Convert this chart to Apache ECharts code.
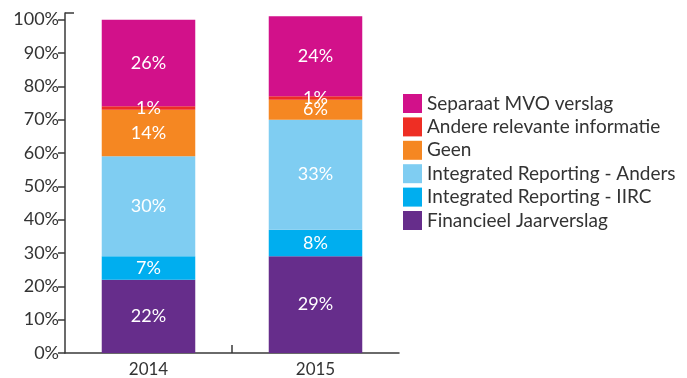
<!DOCTYPE html>
<html>
<head>
<meta charset="utf-8">
<style>
  html, body { margin: 0; padding: 0; background: #fff; }
  #chart { width: 687px; height: 378px; }
</style>
<script src="https://cdn.jsdelivr.net/npm/echarts@6/dist/echarts.min.js"></script>
</head>
<body>
<div id="chart"></div>
<script>
// Jaren op de x-as
const years = ['2014', '2015'];

// Percentages per rapportagevorm (van onder naar boven gestapeld)
const financieelJaarverslag = [22, 29];
const integratedIIRC = [7, 8];
const integratedAnders = [30, 33];
const geen = [14, 6];
const andereRelevante = [1, 1];
const separaatMVO = [26, 24];

// Labels van de y-as
const yTicks = [0, 10, 20, 30, 40, 50, 60, 70, 80, 90, 100];

const FONT = 'Lato';
const TEXT = '#333333';
const AXIS = '#3a3a3a';

const layers = [
  { name: 'Financieel Jaarverslag', data: financieelJaarverslag, color: '#662d8b' },
  { name: 'Integrated Reporting - IIRC', data: integratedIIRC, color: '#00aeef' },
  { name: 'Integrated Reporting - Anders', data: integratedAnders, color: '#7fcdf2' },
  { name: 'Geen', data: geen, color: '#f58722' },
  { name: 'Andere relevante informatie', data: andereRelevante, color: '#ee2e24' },
  { name: 'Separaat MVO verslag', data: separaatMVO, color: '#d2118a' }
];

const chart = echarts.init(document.getElementById('chart'), null, { renderer: 'canvas' });

chart.setOption({
  animation: false,
  textStyle: { fontFamily: FONT },
  grid: { left: 65, right: 288, top: 13, bottom: 23, containLabel: false },
  legend: {
    orient: 'vertical',
    left: 398,
    top: 89,
    padding: 5,
    itemWidth: 19,
    itemHeight: 19,
    itemGap: 4.4,
    icon: 'rect',
    data: layers.map(l => l.name).reverse(),
    textStyle: { fontFamily: FONT, fontSize: 19, lineHeight: 19, color: TEXT }
  },
  xAxis: [
    {
      type: 'category',
      data: years,
      axisLine: { lineStyle: { color: AXIS, width: 1.5 } },
      axisTick: { show: false },
      axisLabel: { color: TEXT, fontFamily: FONT, fontSize: 17, margin: 8 }
    },
    {
      // scheidingsstreepje tussen de jaren
      type: 'value',
      min: 0,
      max: 2,
      position: 'bottom',
      axisLine: { show: false },
      axisLabel: { show: false },
      splitLine: { show: false },
      axisTick: {
        show: true,
        inside: true,
        length: 8,
        customValues: [1],
        lineStyle: { color: AXIS, width: 1.5 }
      }
    }
  ],
  yAxis: [
    {
      type: 'value',
      min: 0,
      max: 102,
      interval: 10,
      axisLine: { show: true, lineStyle: { color: AXIS, width: 1.5 } },
      axisTick: {
        show: true,
        length: 7,
        customValues: yTicks,
        lineStyle: { color: AXIS, width: 1.5 }
      },
      axisLabel: {
        color: TEXT,
        fontFamily: FONT,
        fontSize: 18,
        margin: 6,
        customValues: yTicks,
        formatter: '{value}%'
      },
      splitLine: { show: false }
    },
    {
      // afsluitend haakje bovenaan de y-as
      type: 'value',
      min: 0,
      max: 102,
      position: 'left',
      axisLine: { show: false },
      axisLabel: { show: false },
      splitLine: { show: false },
      axisTick: {
        show: true,
        inside: true,
        length: 9,
        customValues: [102],
        lineStyle: { color: AXIS, width: 1.5 }
      }
    }
  ],
  series: layers.map(l => ({
    name: l.name,
    type: 'bar',
    stack: 'totaal',
    barWidth: '56%',
    data: l.data,
    itemStyle: { color: l.color },
    label: {
      show: true,
      position: 'inside',
      formatter: '{c}%',
      color: '#ffffff',
      fontFamily: FONT,
      fontSize: 18
    }
  }))
});
</script>
</body>
</html>
